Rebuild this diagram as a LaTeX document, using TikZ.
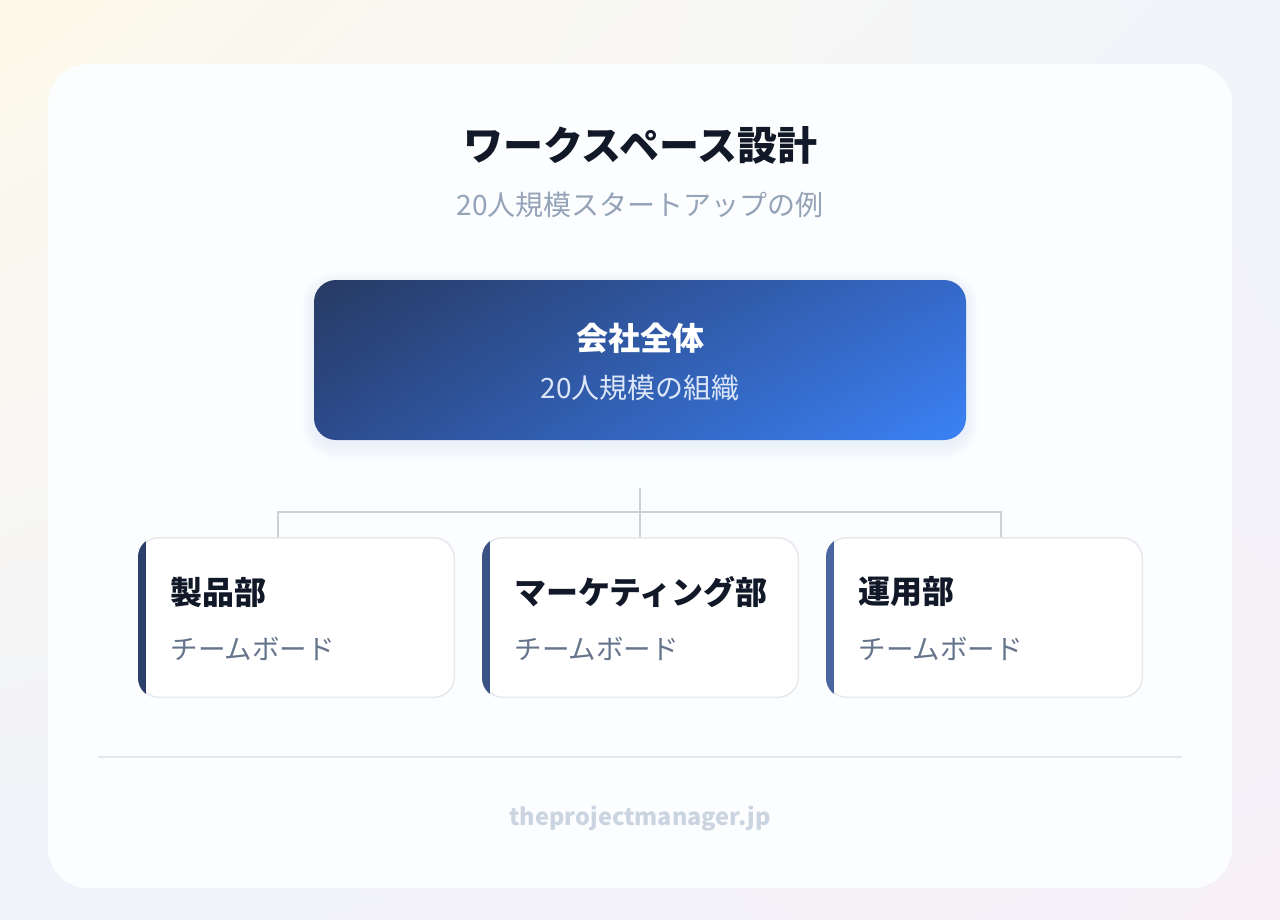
\documentclass[tikz,border=0pt]{standalone}
\usepackage{fontspec}
\setmainfont{Noto Sans CJK JP}
\usetikzlibrary{positioning,shadings}
\definecolor{bgA}{HTML}{FDF9EA}
\definecolor{bgB}{HTML}{F1F4FB}
\definecolor{bgC}{HTML}{F1F3FB}
\definecolor{bgD}{HTML}{F7F1F7}
\definecolor{card}{HTML}{FCFDFE}
\definecolor{ink}{HTML}{111827}
\definecolor{muted}{HTML}{94A3B8}
\definecolor{soft}{HTML}{64748B}
\definecolor{navyA}{HTML}{273A63}
\definecolor{navyB}{HTML}{3569C9}
\definecolor{navyC}{HTML}{2C4B8C}
\definecolor{navyD}{HTML}{3B82F6}
\definecolor{subwhite}{HTML}{DBE6F8}
\definecolor{linkgray}{HTML}{CDD1D6}
\definecolor{edge}{HTML}{E7E9EC}
\definecolor{rule}{HTML}{E2E8F0}
\definecolor{foot}{HTML}{CBD5E1}
\definecolor{accentA}{HTML}{2C3E6B}
\definecolor{accentB}{HTML}{3B5284}
\definecolor{accentC}{HTML}{4A65A0}
\begin{document}
\begin{tikzpicture}[x=1pt,y=-1pt,
    deptbox/.style={draw=edge, line width=1.5pt, fill=white, rounded corners=20pt,
      minimum width=315.5pt, minimum height=159.5pt, inner sep=0pt},
    depttitle/.style={anchor=west, text=ink, font=\bfseries\fontsize{32pt}{38pt}\selectfont},
    deptsub/.style={anchor=west, text=soft, font=\fontsize{27.5pt}{32pt}\selectfont},
    link/.style={draw=linkgray, line width=2pt}]
    \pgfmathsetmacro{\gap}{27};
    \useasboundingbox (0,0) rectangle (1280,920);
    \shade[upper left=bgA, upper right=bgB, lower left=bgC, lower right=bgD] (0,0) rectangle (1280,920);
    \fill[card, rounded corners=40pt] (48,64) rectangle (1232,888);
    \node[text=ink, font=\bfseries\fontsize{40pt}{48pt}\selectfont] (title) at (640,145) {ワークスペース設計};
    \node[text=muted, font=\fontsize{28pt}{34pt}\selectfont] (subtitle) at (640,205) {20人規模スタートアップの例};
    \foreach \s in {1,...,6}
        \fill[navyD, opacity=0.012, rounded corners=22pt+\s*2pt] (314-\s*2,284-\s*2) rectangle (966+\s*2,444+\s*2.5);
    \node[shade, upper left=navyA, upper right=navyB, lower left=navyC, lower right=navyD,
        rounded corners=22pt, minimum width=652pt, minimum height=160pt, inner sep=0pt] (company) at (640,360) {};
    \node[text=white, font=\bfseries\fontsize{32pt}{38pt}\selectfont] (companytitle) at (640,338) {会社全体};
    \node[text=subwhite, font=\fontsize{28pt}{34pt}\selectfont] (companysub) at (640,388) {20人規模の組織};
    \node[deptbox] (prod) at (296.5,617.5) {};
    \node[deptbox, right=\gap pt of prod] (mkt) {};
    \node[deptbox, right=\gap pt of mkt] (ops) {};
    \foreach \d/\c in {prod/accentA, mkt/accentB, ops/accentC} {
        \begin{scope}
            \clip[rounded corners=20pt] (\d.south west) rectangle (\d.north east);
            \fill[\c] ([xshift=-1pt]\d.south west) rectangle ([xshift=8pt]\d.north west);
        \end{scope}
    }
    \coordinate (hub) at ([yshift=-48pt]company.south);
    \coordinate (bus) at ([yshift=-72pt]company.south);
    \coordinate (busL) at (278,512);
    \coordinate (busR) at (1001,512);
    \draw[link] (hub) -- (bus);
    \draw[link] (busL |- prod.north) -- (busL) -- (busR) -- (busR |- ops.north);
    \draw[link] (bus) -- (bus |- mkt.north);
    \foreach \d/\name in {prod/製品部, mkt/マーケティング部, ops/運用部} {
        \node[depttitle] (\d title) at ([xshift=29pt, yshift=-55pt]\d.north west) {\name};
        \node[deptsub] (\d sub) at ([xshift=29pt, yshift=-112pt]\d.north west) {チームボード};
    }
    \draw[rule, line width=1.5pt] (98,757) -- (1182,757);
    \node[text=foot, font=\bfseries\fontsize{23.5pt}{28pt}\selectfont] (footer) at (640,819) {theprojectmanager.jp};
\end{tikzpicture}
\end{document}
